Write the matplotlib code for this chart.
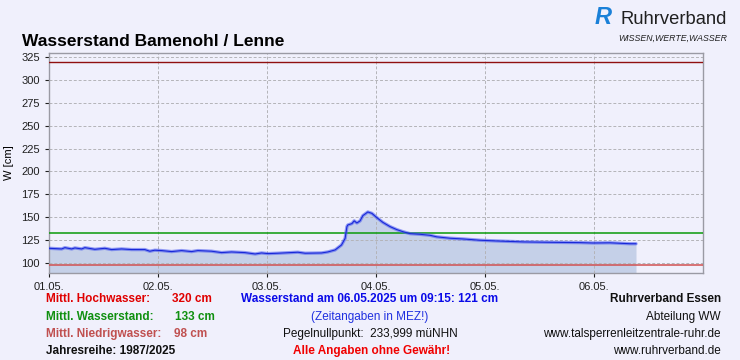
import numpy as np
import matplotlib
matplotlib.use('Agg')
from matplotlib import pyplot as plt

plt.rcParams['font.family'] = ['Liberation Sans', 'DejaVu Sans']

# Hours since 01.05. 00:00 and water level in cm.
hours = [0, 2.8, 3.5, 5, 5.7, 7.2, 7.9, 10.1, 12.3, 13.8, 16, 18.2, 21.1, 22.2,
         23.3, 24.8, 27, 29.2, 31.4, 32.8, 35.8, 38, 40.2, 43.1, 45.4, 46.8,
         48.2, 50.4, 54.8, 56.4, 60, 61.4, 63, 64.4, 65.2, 65.6, 65.8, 66.7,
         67.2, 67.8, 68.5, 69.1, 70.2, 71.1, 72.2, 73.5, 75.1, 76.6, 77.9,
         79.5, 81.7, 83.9, 85.4, 88.3, 91.2, 94.9, 98.6, 104.4, 109.6, 116.9,
         119.8, 123.5, 127.9, 129.25]
level = [116, 115.3, 116.7, 115.3, 116.4, 115.3, 116.7, 114.9, 116, 114.6,
         115.3, 114.6, 114.6, 112.8, 113.9, 113.5, 112.4, 113.5, 112.4, 113.5,
         112.8, 111.3, 112, 111.3, 109.8, 110.9, 110.2, 110.6, 111.7, 110.6,
         110.9, 112, 114.2, 119.6, 126.8, 139.7, 141.5, 143, 146, 143.7, 146,
         151.7, 155.7, 154.2, 149.5, 144.4, 139.7, 136.4, 134.2, 132, 131.3,
         130.2, 128.5, 127, 126.2, 124.8, 124, 123, 122.6, 122.2, 121.8, 122,
         121, 121]

MHW = 320
MW = 133
MNW = 98
day_labels = ['01.05.', '02.05.', '03.05.', '04.05.', '05.05.', '06.05.']
y_ticks = [100, 125, 150, 175, 200, 225, 250, 275, 300, 325]

BG = '#F0F0FC'
days = np.array(hours) / 24.0

fig = plt.figure(figsize=(7.4, 3.6), dpi=100, facecolor=BG)
ax = fig.add_axes([0.0662, 0.2417, 0.8838, 0.6111])
ax.set_facecolor(BG)

ymin, ymax = 89, 329.5
ax.fill_between(days, level, ymin, color='#C5D0E8', lw=0, zorder=1)
ax.plot(days, level, color='#5060F0', lw=2.4, alpha=0.6, zorder=4,
        solid_capstyle='round')
ax.plot(days, level, color='#1828D8', lw=0.8, zorder=5)

ax.axhline(MHW, color='#901010', lw=1, zorder=3)
ax.axhline(MW, color='#0A9A0A', lw=1.1, zorder=3)
ax.axhline(MNW, color='#D05050', lw=1.1, zorder=3)

ax.set_xlim(0, 6)
ax.set_ylim(ymin, ymax)
ax.set_xticks(range(6))
ax.set_xticklabels(day_labels)
ax.set_yticks(y_ticks)
ax.grid(True, color='#B4B4B8', linestyle=(0, (3, 2)), lw=0.7, zorder=2)
ax.tick_params(labelsize=8, colors='#202020', length=3, width=0.8)
for s in ax.spines.values():
    s.set_color('#9A9AA4')
    s.set_linewidth(1)
ax.set_ylabel('W [cm]', fontsize=8, labelpad=5)

fig.text(22 / 740, 1 - 41 / 360, 'Wasserstand Bamenohl / Lenne',
         fontsize=12.5, fontweight='bold', va='center')

# Logo
fig.text(603 / 740, 1 - 17 / 360, 'R', fontsize=17, fontweight='bold',
         color='#1A80D8', ha='center', va='center', style='italic')
fig.text(621 / 740, 1 - 19 / 360, 'Ruhrverband', fontsize=13.2,
         color='#202020', va='center')
fig.text(727 / 740, 1 - 38 / 360, 'WISSEN,WERTE,WASSER', fontsize=6.3,
         style='italic', color='#202020', ha='right', va='center')

rows = [299, 317, 334, 351]
fs = 8.5
def Y(p):
    return 1 - p / 360

fig.text(46 / 740, Y(rows[0]), 'Mittl. Hochwasser:', color='#E00000',
         fontsize=fs, fontweight='bold', va='center')
fig.text(172 / 740, Y(rows[0]), f'{MHW} cm', color='#E00000',
         fontsize=fs, fontweight='bold', va='center')
fig.text(46 / 740, Y(rows[1]), 'Mittl. Wasserstand:', color='#109010',
         fontsize=fs, fontweight='bold', va='center')
fig.text(175 / 740, Y(rows[1]), f'{MW} cm', color='#109010',
         fontsize=fs, fontweight='bold', va='center')
fig.text(46 / 740, Y(rows[2]), 'Mittl. Niedrigwasser:', color='#C05050',
         fontsize=fs, fontweight='bold', va='center')
fig.text(174 / 740, Y(rows[2]), f'{MNW} cm', color='#C05050',
         fontsize=fs, fontweight='bold', va='center')
fig.text(46 / 740, Y(rows[3]), 'Jahresreihe: 1987/2025', color='#101010',
         fontsize=fs, fontweight='bold', va='center')

cx = 370 / 740
fig.text(cx, Y(rows[0]), 'Wasserstand am 06.05.2025 um 09:15: 121 cm',
         color='#0A0AE8', fontsize=fs, fontweight='bold', ha='center', va='center')
fig.text(cx, Y(rows[1]), '(Zeitangaben in MEZ!)', color='#2030E0',
         fontsize=fs, ha='center', va='center')
fig.text(cx, Y(rows[2]), 'Pegelnullpunkt:  233,999 müNHN', color='#101010',
         fontsize=fs, ha='center', va='center')
fig.text(372 / 740, Y(rows[3]), 'Alle Angaben ohne Gewähr!', color='#F00000',
         fontsize=fs, fontweight='bold', ha='center', va='center')

rx = 721 / 740
fig.text(rx, Y(rows[0]), 'Ruhrverband Essen', color='#101010', fontsize=fs,
         fontweight='bold', ha='right', va='center')
fig.text(rx, Y(rows[1]), 'Abteilung WW', color='#101010', fontsize=fs,
         ha='right', va='center')
fig.text(rx, Y(rows[2]), 'www.talsperrenleitzentrale-ruhr.de', color='#101010',
         fontsize=fs, ha='right', va='center')
fig.text(rx, Y(rows[3]), 'www.ruhrverband.de', color='#101010', fontsize=fs,
         ha='right', va='center')

fig.savefig('out.png', dpi=100, facecolor=BG)
